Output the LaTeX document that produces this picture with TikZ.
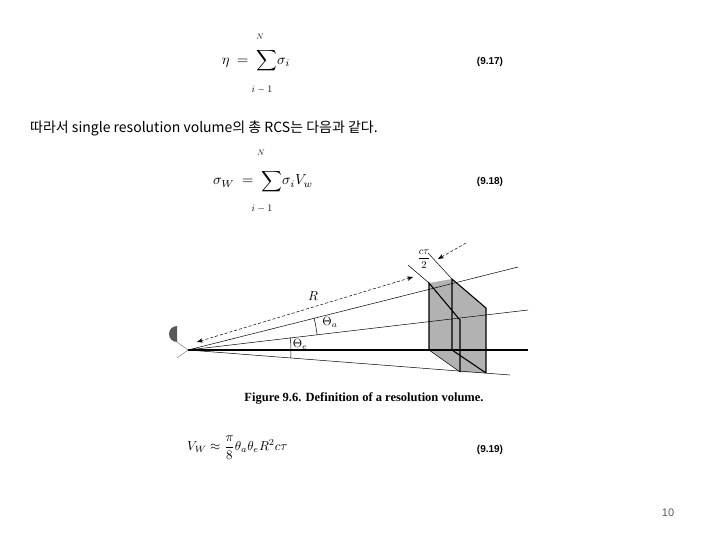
\documentclass[tikz,border=0pt]{standalone}
\usepackage{fontspec}
\usepackage{graphicx}
\setmainfont{Liberation Serif}
\newfontfamily\kr{Noto Sans CJK KR}
\newfontfamily\lsans{Liberation Sans}
\usetikzlibrary{arrows.meta}
\begin{document}
\begin{tikzpicture}[x=1pt,y=-1pt,
  eqn/.style={font=\lsans\bfseries\fontsize{10}{11}\selectfont,inner sep=0},
  thin line/.style={line width=0.5pt},
  thick line/.style={line width=1.1pt}]
\useasboundingbox (0,0) rectangle (720,540);
% eq 9.17
\node[inner sep=0] (e1) at (256,63) {\scalebox{1.45}{$\eta\ =\ \smash{\displaystyle\sum}\sigma_i$}};
\node[inner sep=0] (n1) at (260,37) {\scalebox{0.8}{$N$}};
\node[inner sep=0] (i1) at (262,90) {$i-1$};
\node[eqn] (q1) at (490,62) {(9.17)};
% text
\node[inner sep=0,anchor=west,font=\kr\fontsize{14}{16}\selectfont] (t) at (30,128) {따라서 single resolution volume의 총 RCS는 다음과 같다.};
% eq 9.18
\node[inner sep=0] (e2) at (263,181) {\scalebox{1.45}{$\sigma_W\ =\ \smash{\displaystyle\sum}\sigma_iV_w$}};
\node[inner sep=0] (n2) at (261,153) {\scalebox{0.8}{$N$}};
\node[inner sep=0] (i2) at (262,209) {$i-1$};
\node[eqn] (q2) at (490,182) {(9.18)};
% figure
\coordinate (O) at (188,350);
\coordinate (T) at (518,267);
\coordinate (M) at (528,310);
\coordinate (H) at (528,350);
\coordinate (L) at (510,375);
\coordinate (A) at (429,283);
\coordinate (B) at (452,279);
\coordinate (C) at (486,308);
\coordinate (D) at (486,373);
\coordinate (E) at (460,372);
\coordinate (F) at (429,350);
\coordinate (G) at (460,320);
\coordinate (K) at (452,350);
\fill[gray!60] (A)--(B)--(C)--(D)--(E)--(F)--cycle;
\draw[thick line] (O)--(H);
\draw[thin line] (O)--(T) (O)--(M) (O)--(L);
\draw[thick line] (B)--(C)--(D) (F)--(A)--(G)--(E) (B)--(K)--(D);
\draw[thin line] (F)--(E);
\fill[gray!70!black] (177,342) arc (90:270:8) -- cycle;
\draw[thin line,gray] (177,342)--(O)--(177,358);
% R arrow
\coordinate (R1) at (197,342);
\coordinate (R2) at (413,277);
\draw[thin line,densely dashed,{Stealth[length=6pt]}-{Stealth[length=6pt]}] (R1)--(R2);
\node[inner sep=0] (Rl) at (313,296) {\scalebox{1.3}{$R$}};
% ctau
\coordinate (X1) at (408,265);
\coordinate (X2) at (428,253);
\draw[thin line] (A)--(X1) (B)--(X2);
\coordinate (P1) at (466,243);
\coordinate (P2) at (438,259);
\draw[thin line,densely dashed,-{Stealth[length=6pt]}] (P1)--(P2);
\node[inner sep=0] (ct) at (424,259) {\scalebox{1.05}{$\displaystyle\frac{c\tau}{2}$}};
% angles
\draw[thin line] (O) ++(-14.1:130) arc[start angle=-14.1,end angle=-6.7,radius=130];
\node[inner sep=0] (ta) at (330,322) {\scalebox{1.2}{$\Theta_a$}};
\draw[thin line] (O) ++(-7:103) arc[start angle=-7,end angle=4.4,radius=103];
\node[inner sep=0] (te) at (300,344) {\scalebox{1.2}{$\Theta_e$}};
\node[inner sep=0,font=\bfseries\fontsize{12.5}{14}\selectfont] (cap) at (364,398) {Figure 9.6. Definition of a resolution volume.};
% eq 9.19
\node[inner sep=0,anchor=west] (e3) at (187,448) {\scalebox{1.3}{$\displaystyle V_W\approx\frac{\pi}{8}\theta_a\theta_eR^2c\tau$}};
\node[eqn] (q3) at (490,450) {(9.19)};
\node[inner sep=0,font=\lsans\fontsize{11}{12}\selectfont,gray!70!black] (pg) at (668,513) {10};
\end{tikzpicture}
\end{document}
